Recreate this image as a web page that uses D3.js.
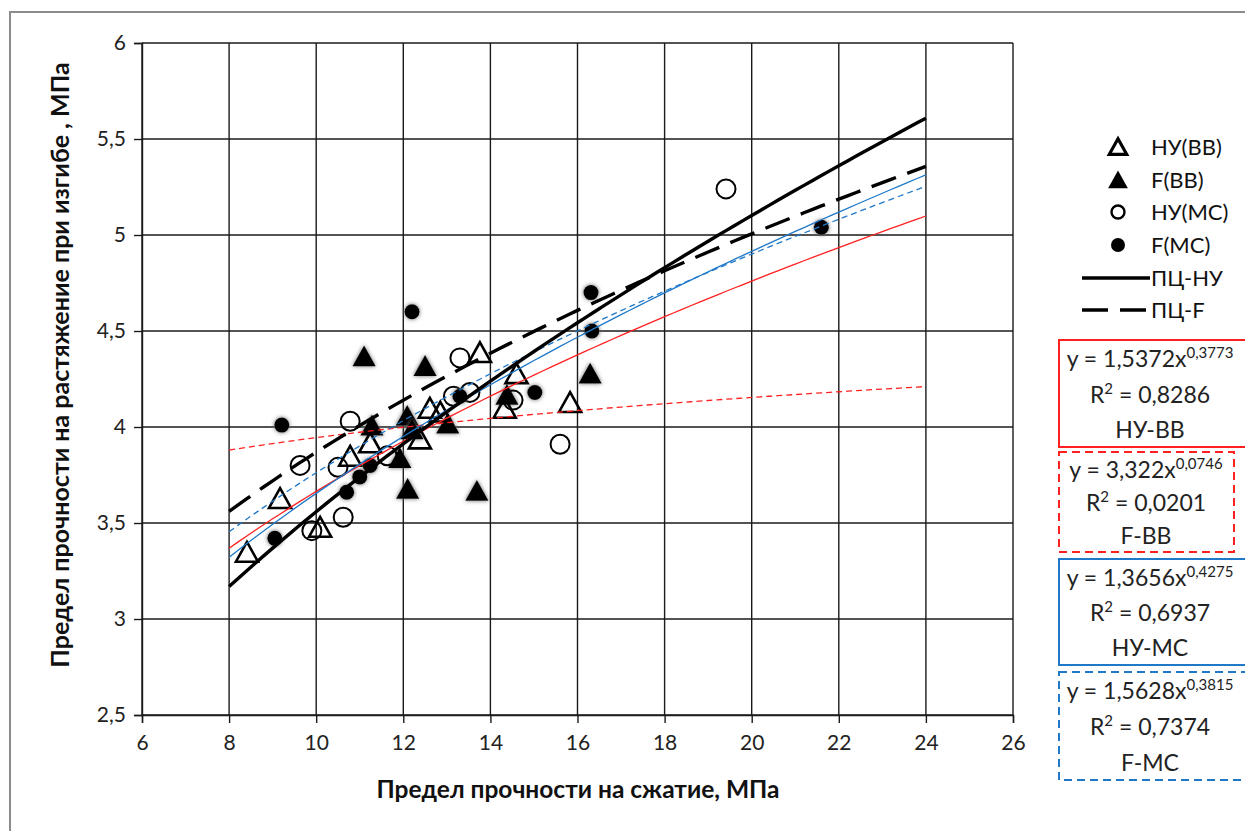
<!DOCTYPE html>
<html>
<head>
<meta charset="utf-8">
<script src="https://cdn.jsdelivr.net/npm/d3@7"></script>
<style>
  html, body { margin: 0; padding: 0; background: #fff; }
  svg { display: block; font-family: Lato, "Noto Sans", sans-serif; }
</style>
</head>
<body>
<div id="chart"></div>
<script>
// ---- data ----
const nuBB_x = [8.41, 9.17, 10.09, 10.78, 11.24, 12.38, 12.61, 12.85, 13.76, 14.6, 14.33, 15.83];
const nuBB_y = [3.34, 3.62, 3.47, 3.84, 3.91, 3.93, 4.09, 4.07, 4.38, 4.27, 4.09, 4.12];

const fBB_x = [11.1, 12.5, 11.28, 12.09, 11.92, 12.1, 13.02, 13.69, 14.38, 16.29, 12.2];
const fBB_y = [4.36, 4.31, 4.0, 4.05, 3.83, 3.67, 4.01, 3.66, 4.16, 4.27, 3.98];

const nuMC_x = [9.63, 10.5, 10.78, 11.63, 10.62, 9.9, 13.3, 13.15, 13.53, 14.52, 15.6, 19.41];
const nuMC_y = [3.80, 3.79, 4.03, 3.85, 3.53, 3.46, 4.36, 4.16, 4.18, 4.14, 3.91, 5.24];

const fMC_x = [9.21, 9.05, 10.7, 11.0, 11.24, 12.2, 13.3, 15.02, 16.31, 16.33, 21.6];
const fMC_y = [4.01, 3.42, 3.66, 3.74, 3.80, 4.60, 4.16, 4.18, 4.70, 4.50, 5.04];

// power trendlines y = a * x^b (Excel)
const trendNames = ['НУ-ВВ', 'F-ВВ', 'НУ-МС', 'F-МС'];
const trendA = [1.5372, 3.322, 1.3656, 1.5628];
const trendB = [0.3773, 0.0746, 0.4275, 0.3815];
const trendAText = ['1,5372', '3,322', '1,3656', '1,5628'];
const trendBText = ['0,3773', '0,0746', '0,4275', '0,3815'];
const trendR2 = ['0,8286', '0,0201', '0,6937', '0,7374'];

// ПЦ curves (coefficients)
const pcNames = ['ПЦ-НУ', 'ПЦ-F'];
const pcA = [1.0757, 1.643];
const pcB = [0.5196, 0.3719];

const xTicks = [6, 8, 10, 12, 14, 16, 18, 20, 22, 24, 26];
const yTicks = [2.5, 3, 3.5, 4, 4.5, 5, 5.5, 6];
const trendRange = [8, 24];

const xTitle = 'Предел прочности на сжатие, МПа';
const yTitle = 'Предел прочности на растяжение при изгибе , МПа';

// ---- drawing ----
const width = 1245, height = 831;
const svg = d3.select('#chart').append('svg').attr('width', width).attr('height', height);

const defs = svg.append('defs');
const glow = defs.append('filter').attr('id', 'glow').attr('x', '-50%').attr('y', '-50%').attr('width', '200%').attr('height', '200%');
glow.append('feGaussianBlur').attr('in', 'SourceAlpha').attr('stdDeviation', 2.2).attr('result', 'b');
glow.append('feFlood').attr('flood-color', '#666').attr('result', 'c');
glow.append('feComposite').attr('in', 'c').attr('in2', 'b').attr('operator', 'in').attr('result', 's');
const gm = glow.append('feMerge');
gm.append('feMergeNode').attr('in', 's');
gm.append('feMergeNode').attr('in', 'SourceGraphic');

// outer chart border
svg.append('rect').attr('x', 10).attr('y', 12).attr('width', 1260).attr('height', 840)
  .attr('fill', 'none').attr('stroke', '#8c8c8c').attr('stroke-width', 2);

const x = d3.scaleLinear().domain([6, 26]).range([142, 1013]);
const y = d3.scaleLinear().domain([2.5, 6]).range([715, 43]);
const fmt = d => String(d).replace('.', ',');

// grid
const grid = svg.append('g').attr('stroke', '#1a1a1a').attr('stroke-width', 1.4);
grid.selectAll('line.v').data(xTicks).join('line').attr('class', 'v')
  .attr('x1', d => x(d)).attr('x2', d => x(d)).attr('y1', y(6)).attr('y2', y(2.5));
grid.selectAll('line.h').data(yTicks).join('line').attr('class', 'h')
  .attr('x1', x(6)).attr('x2', x(26)).attr('y1', d => y(d)).attr('y2', d => y(d));

// axes
const xAxis = d3.axisBottom(x).tickValues(xTicks).tickSize(8).tickPadding(12).tickFormat(fmt);
const yAxis = d3.axisLeft(y).tickValues(yTicks).tickSize(8).tickPadding(8).tickFormat(fmt);
const gx = svg.append('g').attr('transform', `translate(0,${y(2.5)})`).call(xAxis);
const gy = svg.append('g').attr('transform', `translate(${x(6)},0)`).call(yAxis);
[gx, gy].forEach(g => {
  g.select('.domain').attr('stroke', '#1a1a1a').attr('stroke-width', 1.4);
  g.selectAll('.tick line').attr('stroke', '#1a1a1a').attr('stroke-width', 1.4);
  g.selectAll('.tick text').attr('font-size', 21).attr('fill', '#222').attr('font-family', 'Lato, sans-serif');
});

// axis titles
svg.append('text').attr('x', 578).attr('y', 798).attr('text-anchor', 'middle')
  .attr('font-size', 24.5).attr('font-weight', 700).attr('fill', '#111').text(xTitle);
svg.append('text').attr('transform', 'translate(69,365) rotate(-90)').attr('text-anchor', 'middle')
  .attr('font-size', 25).attr('font-weight', 700).attr('fill', '#111').text(yTitle);

// markers
const triPath = s => `M0,${-s * 0.62}L${s * 0.58},${s * 0.42}L${-s * 0.58},${s * 0.42}Z`;
const pts = (xs, ys) => xs.map((v, i) => [v, ys[i]]);
const marks = svg.append('g');

marks.selectAll('path.fbb').data(pts(fBB_x, fBB_y)).join('path').attr('class', 'fbb')
  .attr('d', triPath(20)).attr('transform', d => `translate(${x(d[0])},${y(d[1])})`)
  .attr('fill', '#000').attr('filter', 'url(#glow)');
marks.selectAll('path.nubb').data(pts(nuBB_x, nuBB_y)).join('path').attr('class', 'nubb')
  .attr('d', triPath(19)).attr('transform', d => `translate(${x(d[0])},${y(d[1])})`)
  .attr('fill', 'none').attr('stroke', '#000').attr('stroke-width', 2.6).attr('stroke-linejoin', 'miter');
marks.selectAll('circle.numc').data(pts(nuMC_x, nuMC_y)).join('circle').attr('class', 'numc')
  .attr('cx', d => x(d[0])).attr('cy', d => y(d[1])).attr('r', 9.5)
  .attr('fill', 'none').attr('stroke', '#000').attr('stroke-width', 2);
marks.selectAll('circle.fmc').data(pts(fMC_x, fMC_y)).join('circle').attr('class', 'fmc')
  .attr('cx', d => x(d[0])).attr('cy', d => y(d[1])).attr('r', 7.5)
  .attr('fill', '#000').attr('filter', 'url(#glow)');

// trendlines
const xs = d3.range(trendRange[0], trendRange[1] + 0.001, 0.2);
const line = d3.line().x(d => x(d[0])).y(d => y(d[1]));
const trendColor = ['#ff2020', '#ff2020', '#1f78c8', '#1f78c8'];
const trendDash = [null, '6,4', null, '6,4'];
trendNames.forEach((n, i) => {
  svg.append('path').datum(xs.map(v => [v, trendA[i] * Math.pow(v, trendB[i])]))
    .attr('d', line).attr('fill', 'none').attr('stroke', trendColor[i]).attr('stroke-width', 1.3)
    .attr('stroke-dasharray', trendDash[i]);
});
const pcDash = [null, '26,12'];
pcNames.forEach((n, i) => {
  svg.append('path').datum(xs.map(v => [v, pcA[i] * Math.pow(v, pcB[i])]))
    .attr('d', line).attr('fill', 'none').attr('stroke', '#000').attr('stroke-width', 3.4)
    .attr('stroke-dasharray', pcDash[i]);
});

// legend
const legend = svg.append('g').attr('font-size', 22).attr('fill', '#111');
const legRows = [147, 180, 212, 245, 278, 310];
const legLabels = ['НУ(ВВ)', 'F(ВВ)', 'НУ(МС)', 'F(МС)', ...pcNames];
legLabels.forEach((t, i) => {
  legend.append('text').attr('x', 1151).attr('y', legRows[i]).attr('dy', '0.36em').text(t);
});
legend.append('path').attr('d', triPath(15)).attr('transform', `translate(1118,${legRows[0] + 1})`)
  .attr('fill', 'none').attr('stroke', '#000').attr('stroke-width', 3.2);
legend.append('path').attr('d', triPath(17)).attr('transform', `translate(1118,${legRows[1] + 1})`).attr('fill', '#000');
legend.append('circle').attr('cx', 1118).attr('cy', legRows[2]).attr('r', 6.5)
  .attr('fill', 'none').attr('stroke', '#000').attr('stroke-width', 2.4);
legend.append('circle').attr('cx', 1118).attr('cy', legRows[3]).attr('r', 7).attr('fill', '#000');
legend.append('line').attr('x1', 1082).attr('x2', 1150).attr('y1', legRows[4]).attr('y2', legRows[4])
  .attr('stroke', '#000').attr('stroke-width', 3.4);
legend.append('line').attr('x1', 1082).attr('x2', 1150).attr('y1', legRows[5]).attr('y2', legRows[5])
  .attr('stroke', '#000').attr('stroke-width', 3.4).attr('stroke-dasharray', '26,12');

// equation boxes
const boxTop = [340, 452, 559, 672];
const boxBot = [447, 552, 665, 780];
const boxRight = [1252, 1234, 1252, 1252];
const boxCx = [1150, 1146, 1150, 1150];
trendNames.forEach((n, i) => {
  const g = svg.append('g');
  g.append('rect').attr('x', 1059).attr('y', boxTop[i]).attr('width', boxRight[i] - 1059)
    .attr('height', boxBot[i] - boxTop[i]).attr('fill', '#fff')
    .attr('stroke', trendColor[i]).attr('stroke-width', 2).attr('stroke-dasharray', trendDash[i] ? '8,5' : null);
  const step = (boxBot[i] - boxTop[i]) / 3;
  const t1 = g.append('text').attr('x', boxCx[i]).attr('y', boxTop[i] + step * 0.5 + 9)
    .attr('text-anchor', 'middle').attr('font-size', 23).attr('fill', '#222');
  t1.append('tspan').text(`y = ${trendAText[i]}x`);
  t1.append('tspan').attr('dy', -9).attr('font-size', 15).text(trendBText[i]);
  const t2 = g.append('text').attr('x', boxCx[i]).attr('y', boxTop[i] + step * 1.5 + 9)
    .attr('text-anchor', 'middle').attr('font-size', 23).attr('fill', '#222');
  t2.append('tspan').text('R');
  t2.append('tspan').attr('dy', -9).attr('font-size', 15).text('2');
  t2.append('tspan').attr('dy', 9).text(` = ${trendR2[i]}`);
  g.append('text').attr('x', boxCx[i]).attr('y', boxTop[i] + step * 2.5 + 9)
    .attr('text-anchor', 'middle').attr('font-size', 23).attr('fill', '#222').text(n);
});
</script>
</body>
</html>
